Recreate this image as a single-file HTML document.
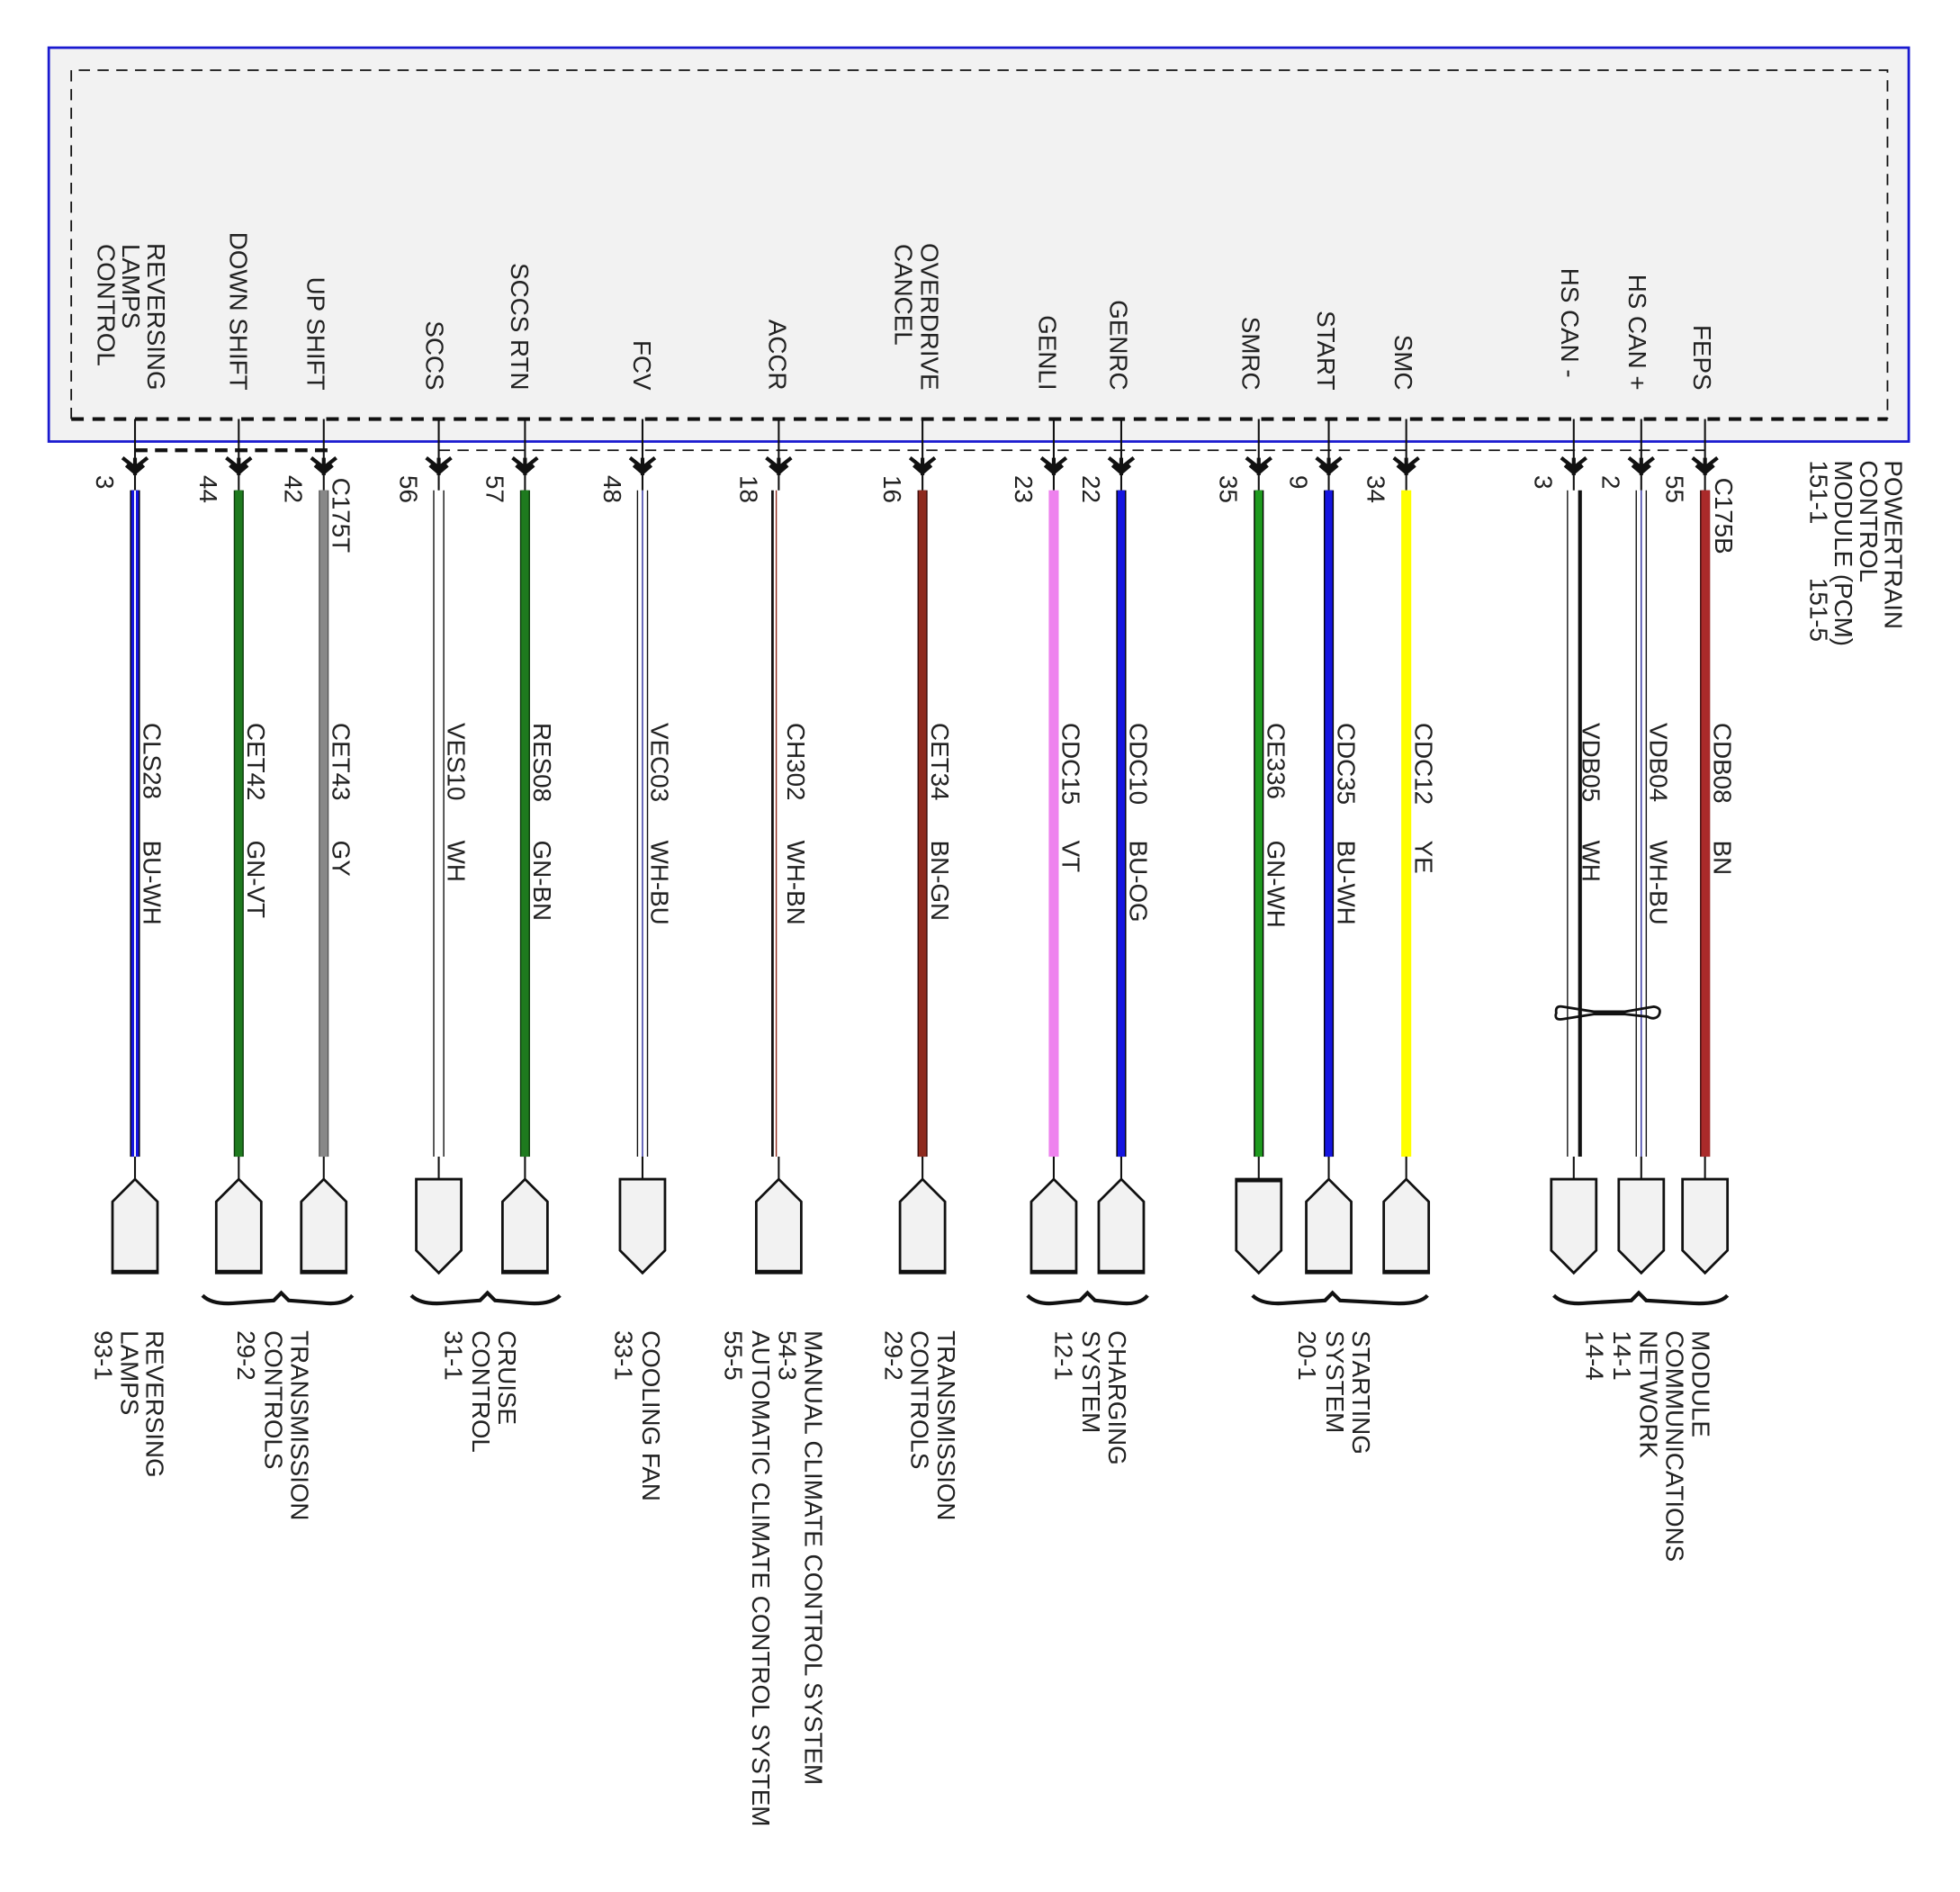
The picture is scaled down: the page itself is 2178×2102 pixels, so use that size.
<!DOCTYPE html>
<html><head><meta charset="utf-8"><style>
html,body{margin:0;padding:0;background:#fff}
svg{display:block}
text{font-family:"Liberation Sans",Arial,sans-serif;font-size:20px;fill:#222}
</style></head><body>
<svg width="2178" height="2102" viewBox="0 0 1568 1513" xmlns="http://www.w3.org/2000/svg">
<rect x="39" y="38" width="1488" height="315" fill="#f2f2f2" stroke="#1a1ad0" stroke-width="2"/>
<path d="M57 335 V56 H1510 V335" fill="none" stroke="#111" stroke-width="1.3" stroke-dasharray="9,6"/>
<line x1="57" y1="335" x2="1510" y2="335" stroke="#111" stroke-width="3" stroke-dasharray="10,7"/>
<line x1="108" y1="360" x2="262" y2="360" stroke="#111" stroke-width="3" stroke-dasharray="10,6"/>
<line x1="351" y1="360" x2="1364" y2="360" stroke="#111" stroke-width="1.3" stroke-dasharray="9,6"/>

<g fill="none" stroke="#111" stroke-width="1.5">
<path d="M108 335V392M191 335V392M259 335V392M351 335V392M420 335V392M514 335V392M623 335V392M738 335V392M843 335V392M897 335V392M1007 335V392M1063 335V392M1125 335V392M1259 335V392M1313 335V392M1364 335V392"/>
</g>
<g fill="none" stroke="#111" stroke-width="3">
<path id="a" d="M98 366 L108 374 L118 366 M101 372 L108 378 L115 372 M108 366 V380"/>
<use href="#a" x="83"/><use href="#a" x="151"/><use href="#a" x="243"/><use href="#a" x="312"/><use href="#a" x="406"/><use href="#a" x="515"/><use href="#a" x="630"/><use href="#a" x="735"/><use href="#a" x="789"/><use href="#a" x="899"/><use href="#a" x="955"/><use href="#a" x="1017"/><use href="#a" x="1151"/><use href="#a" x="1205"/><use href="#a" x="1256"/>
</g>

<g>
<rect x="104" y="392" width="8" height="533" fill="#000"/><rect x="105" y="392" width="6" height="533" fill="#1515e0"/><rect x="107.3" y="392" width="1.4" height="533" fill="#fff"/>
<rect x="187" y="392" width="8" height="533" fill="#0a3a0a"/><rect x="188" y="392" width="6" height="533" fill="#1e7a1e"/>
<rect x="255" y="392" width="8" height="533" fill="#555"/><rect x="256" y="392" width="6" height="533" fill="#888"/>
<rect x="416" y="392" width="8" height="533" fill="#0a3a0a"/><rect x="417" y="392" width="6" height="533" fill="#1e7a1e"/>
<rect x="734" y="392" width="8" height="533" fill="#3a0a0a"/><rect x="735" y="392" width="6" height="533" fill="#8e2a1e"/>
<rect x="839" y="392" width="8" height="533" fill="#ee82ee"/>
<rect x="893" y="392" width="8" height="533" fill="#000"/><rect x="894" y="392" width="6" height="533" fill="#1515e0"/>
<rect x="1003" y="392" width="8" height="533" fill="#000"/><rect x="1004" y="392" width="6" height="533" fill="#1e9a1e"/>
<rect x="1059" y="392" width="8" height="533" fill="#000"/><rect x="1060" y="392" width="6" height="533" fill="#1515e0"/>
<rect x="1121" y="392" width="8" height="533" fill="#ffff00"/>
<rect x="1360" y="392" width="8" height="533" fill="#3a0a0a"/><rect x="1361" y="392" width="7" height="533" fill="#aa2a2a"/>
</g>
<g fill="none" stroke="#111" stroke-width="1">
<path d="M347 392V925M355 392V925M510 392V925M518 392V925M1254 392V925M1309 392V925M1317 392V925"/>
</g>
<path d="M514 392V925M1313 392V925" stroke="#2a2aa0" stroke-width="1"/>
<path d="M618 392V925" stroke="#111" stroke-width="2"/>
<path d="M621 392V925" stroke="#8e2a1e" stroke-width="1"/>
<path d="M1264 392V925" stroke="#111" stroke-width="3"/>
<path d="M1245 810 Q1244 804 1250 805 L1275 809 L1300 809 L1323 805 Q1330 806 1327 812 Q1324 816 1318 813 L1300 811 L1275 811 L1250 815 Q1243 816 1245 810Z" fill="none" stroke="#111" stroke-width="2"/>

<path d="M108 925V943M191 925V943M259 925V943M351 925V943M420 925V943M514 925V943M623 925V943M738 925V943M843 925V943M897 925V943M1007 925V943M1063 925V943M1125 925V943M1259 925V943M1313 925V943M1364 925V943" stroke="#111" stroke-width="1.5"/>

<g fill="#f2f2f2" stroke="#111" stroke-width="2">
<path id="up" d="M90 1018 V961 L108 943 L126 961 V1018 Z"/>
<use href="#up" x="83"/><use href="#up" x="151"/><use href="#up" x="312"/><use href="#up" x="515"/><use href="#up" x="630"/><use href="#up" x="735"/><use href="#up" x="789"/><use href="#up" x="955"/><use href="#up" x="1017"/>
<path id="dn" d="M333 943 H369 V1000 L351 1018 L333 1000 Z"/>
<use href="#dn" x="163"/><use href="#dn" x="656"/><use href="#dn" x="908"/><use href="#dn" x="962"/><use href="#dn" x="1013"/>
</g>
<g stroke="#111" stroke-width="3">
<path d="M90 1017H126M173 1017H209M241 1017H277M402 1017H438M605 1017H641M720 1017H756M825 1017H861M879 1017H915M1045 1017H1081M1107 1017H1143M989 944H1025"/>
</g>

<g fill="none" stroke="#111" stroke-width="3">
<path d="M162 1036 Q170 1044 190 1042 L219 1040 L225 1034 L231 1040 L258 1042 Q275 1044 282 1036"/>
<path d="M329 1036 Q337 1044 357 1042 L384 1040 L390 1034 L396 1040 L420 1042 Q440 1044 448 1036"/>
<path d="M822 1036 Q830 1044 845 1042 L864 1040 L870 1034 L876 1040 L895 1042 Q912 1044 918 1036"/>
<path d="M1002 1036 Q1010 1044 1030 1042 L1060 1040 L1066 1034 L1072 1040 L1110 1042 Q1135 1044 1142 1036"/>
<path d="M1243 1036 Q1251 1044 1270 1042 L1305 1040 L1311 1034 L1317 1040 L1350 1042 Q1375 1044 1382 1036"/>
</g>

<text transform="translate(98,195) rotate(90)">LAMPS</text>
<text transform="translate(78,195) rotate(90)">CONTROL</text>
<text transform="translate(716,195) rotate(90)">CANCEL</text>
<g text-anchor="end">
<text transform="translate(118,312) rotate(90)">REVERSING</text>
<text transform="translate(184,312) rotate(90)">DOWN SHIFT</text>
<text transform="translate(246,312) rotate(90)">UP SHIFT</text>
<text transform="translate(341,312) rotate(90)">SCCS</text>
<text transform="translate(409,312) rotate(90)">SCCS RTN</text>
<text transform="translate(507,312) rotate(90)">FCV</text>
<text transform="translate(615,312) rotate(90)">ACCR</text>
<text transform="translate(737,312) rotate(90)">OVERDRIVE</text>
<text transform="translate(831,312) rotate(90)">GENLI</text>
<text transform="translate(888,312) rotate(90)">GENRC</text>
<text transform="translate(994,312) rotate(90)">SMRC</text>
<text transform="translate(1054,312) rotate(90)">START</text>
<text transform="translate(1116,312) rotate(90)">SMC</text>
<text transform="translate(1249,302) rotate(90)">HS CAN -</text>
<text transform="translate(1303,312) rotate(90)">HS CAN +</text>
<text transform="translate(1355,312) rotate(90)">FEPS</text>
</g>

<g>
<text transform="translate(77,380) rotate(90)">3</text>
<text transform="translate(160,380) rotate(90)">44</text>
<text transform="translate(228,380) rotate(90)">42</text>
<text transform="translate(320,380) rotate(90)">56</text>
<text transform="translate(389,380) rotate(90)">57</text>
<text transform="translate(483,380) rotate(90)">48</text>
<text transform="translate(592,380) rotate(90)">18</text>
<text transform="translate(707,380) rotate(90)">16</text>
<text transform="translate(812,380) rotate(90)">23</text>
<text transform="translate(866,380) rotate(90)">22</text>
<text transform="translate(976,380) rotate(90)">35</text>
<text transform="translate(1032,380) rotate(90)">9</text>
<text transform="translate(1094,380) rotate(90)">34</text>
<text transform="translate(1228,380) rotate(90)">3</text>
<text transform="translate(1282,380) rotate(90)">2</text>
<text transform="translate(1333,380) rotate(90)">55</text>
<text transform="translate(266,382) rotate(90)">C175T</text>
<text transform="translate(1372,382) rotate(90)">C175B</text>
<text transform="translate(1508,368) rotate(90)">POWERTRAIN</text>
<text transform="translate(1488,368) rotate(90)">CONTROL</text>
<text transform="translate(1468,368) rotate(90)">MODULE (PCM)</text>
<text transform="translate(1448,368) rotate(90)">151-1</text>
<text transform="translate(1448,462) rotate(90)">151-5</text>
</g>

<g>
<text transform="translate(115,578) rotate(90)">CLS28</text><text transform="translate(115,672) rotate(90)">BU-WH</text>
<text transform="translate(198,578) rotate(90)">CET42</text><text transform="translate(198,672) rotate(90)">GN-VT</text>
<text transform="translate(266,578) rotate(90)">CET43</text><text transform="translate(266,672) rotate(90)">GY</text>
<text transform="translate(358,578) rotate(90)">VES10</text><text transform="translate(358,672) rotate(90)">WH</text>
<text transform="translate(427,578) rotate(90)">RES08</text><text transform="translate(427,672) rotate(90)">GN-BN</text>
<text transform="translate(521,578) rotate(90)">VEC03</text><text transform="translate(521,672) rotate(90)">WH-BU</text>
<text transform="translate(630,578) rotate(90)">CH302</text><text transform="translate(630,672) rotate(90)">WH-BN</text>
<text transform="translate(745,578) rotate(90)">CET34</text><text transform="translate(745,672) rotate(90)">BN-GN</text>
<text transform="translate(850,578) rotate(90)">CDC15</text><text transform="translate(850,672) rotate(90)">VT</text>
<text transform="translate(904,578) rotate(90)">CDC10</text><text transform="translate(904,672) rotate(90)">BU-OG</text>
<text transform="translate(1014,578) rotate(90)">CE336</text><text transform="translate(1014,672) rotate(90)">GN-WH</text>
<text transform="translate(1070,578) rotate(90)">CDC35</text><text transform="translate(1070,672) rotate(90)">BU-WH</text>
<text transform="translate(1132,578) rotate(90)">CDC12</text><text transform="translate(1132,672) rotate(90)">YE</text>
<text transform="translate(1266,578) rotate(90)">VDB05</text><text transform="translate(1266,672) rotate(90)">WH</text>
<text transform="translate(1320,578) rotate(90)">VDB04</text><text transform="translate(1320,672) rotate(90)">WH-BU</text>
<text transform="translate(1371,578) rotate(90)">CDB08</text><text transform="translate(1371,672) rotate(90)">BN</text>
</g>

<g>
<text transform="translate(117,1064) rotate(90)">REVERSING</text>
<text transform="translate(97,1064) rotate(90)">LAMPS</text>
<text transform="translate(76,1064) rotate(90)">93-1</text>
<text transform="translate(233,1064) rotate(90)">TRANSMISSION</text>
<text transform="translate(212,1064) rotate(90)">CONTROLS</text>
<text transform="translate(190,1064) rotate(90)">29-2</text>
<text transform="translate(399,1064) rotate(90)">CRUISE</text>
<text transform="translate(378,1064) rotate(90)">CONTROL</text>
<text transform="translate(356,1064) rotate(90)">31-1</text>
<text transform="translate(514,1064) rotate(90)">COOLING FAN</text>
<text transform="translate(492,1064) rotate(90)">33-1</text>
<text transform="translate(644,1064) rotate(90)">MANUAL CLIMATE CONTROL SYSTEM</text>
<text transform="translate(623,1064) rotate(90)">54-3</text>
<text transform="translate(602,1064) rotate(90)">AUTOMATIC CLIMATE CONTROL SYSTEM</text>
<text transform="translate(580,1064) rotate(90)">55-5</text>
<text transform="translate(750,1064) rotate(90)">TRANSMISSION</text>
<text transform="translate(729,1064) rotate(90)">CONTROLS</text>
<text transform="translate(708,1064) rotate(90)">29-2</text>
<text transform="translate(887,1064) rotate(90)">CHARGING</text>
<text transform="translate(866,1064) rotate(90)">SYSTEM</text>
<text transform="translate(844,1064) rotate(90)">12-1</text>
<text transform="translate(1082,1064) rotate(90)">STARTING</text>
<text transform="translate(1061,1064) rotate(90)">SYSTEM</text>
<text transform="translate(1039,1064) rotate(90)">20-1</text>
<text transform="translate(1354,1064) rotate(90)">MODULE</text>
<text transform="translate(1333,1064) rotate(90)">COMMUNICATIONS</text>
<text transform="translate(1312,1064) rotate(90)">NETWORK</text>
<text transform="translate(1291,1064) rotate(90)">14-1</text>
<text transform="translate(1269,1064) rotate(90)">14-4</text>
</g>
</svg>
</body></html>
